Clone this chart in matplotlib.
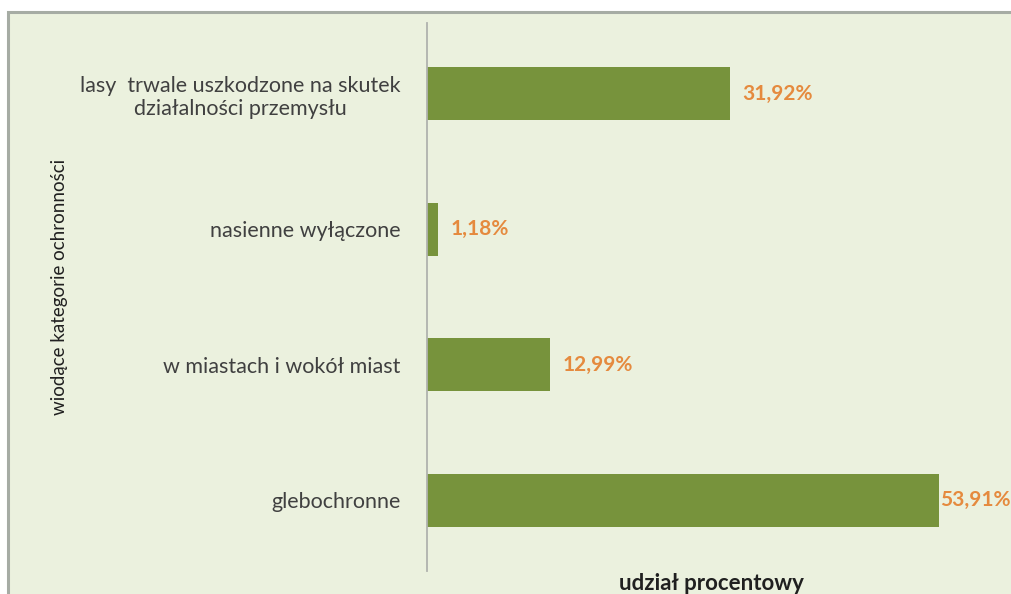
import matplotlib.pyplot as plt
from matplotlib.patches import Rectangle

plt.rcParams['font.family'] = ['Lato', 'DejaVu Sans']

categories = ['lasy  trwale uszkodzone na skutek\ndziałalności przemysłu',
              'nasienne wyłączone',
              'w miastach i wokół miast',
              'glebochronne']
shares = [31.92, 1.18, 12.99, 53.91]
labels = ['31,92%', '1,18%', '12,99%', '53,91%']

bg = '#ebf1de'
bar_color = '#77933c'
label_color = '#e58a3e'
text_color = '#404040'

fig = plt.figure(figsize=(10.11, 5.94), dpi=100)
fig.patch.set_facecolor('white')

# panel with grey frame, kept behind the axes
frame = Rectangle((8 / 1011, -0.1), 1.1, (594 - 12) / 594 + 0.1,
                  transform=fig.transFigure, facecolor=bg,
                  edgecolor='#a6aca4', linewidth=2.2, zorder=-5)
fig.patches.append(frame)

ax = fig.add_axes([427 / 1011, 26 / 594, 570 / 1011, 542 / 594])
ax.set_facecolor('none')
ax.set_zorder(2)

ypos = list(range(len(categories)))
ax.barh(ypos, shares, height=0.39, color=bar_color, zorder=2)
ax.set_xlim(0, 60)
ax.set_ylim(len(categories) - 0.5, -0.5)

for y, v, t in zip(ypos, shares, labels):
    off = 1 if v == max(shares) else 9
    ax.annotate(t, (v, y), xytext=(off, 0), textcoords='offset points',
                va='center', ha='left', color=label_color,
                fontsize=15, fontweight='bold', annotation_clip=False)

ax.set_yticks(ypos)
ax.set_yticklabels(categories, fontsize=15.5, color=text_color,
                   linespacing=1.2, ha='right')
for lab in ax.get_yticklabels():
    lab.set_multialignment('center')
ax.tick_params(axis='y', length=0, pad=19)
ax.set_xticks([])

for s in ['top', 'right', 'bottom']:
    ax.spines[s].set_visible(False)
ax.spines['left'].set_color('#b0b2ae')
ax.spines['left'].set_linewidth(1.3)
ax.spines['left'].set_bounds(len(categories) - 0.5 + 0.02, -0.5 - 0.02)

fig.text(711 / 1011, 1 - 583 / 594, 'udział procentowy', ha='center',
         va='center', fontsize=16, fontweight='bold', color='#202020')
fig.text(60 / 1011, 1 - 287 / 594, 'wiodące kategorie ochronności',
         rotation=90, ha='center', va='center', fontsize=13.5,
         color='#202020')

fig.savefig('out.png', dpi=100, facecolor=fig.get_facecolor())
